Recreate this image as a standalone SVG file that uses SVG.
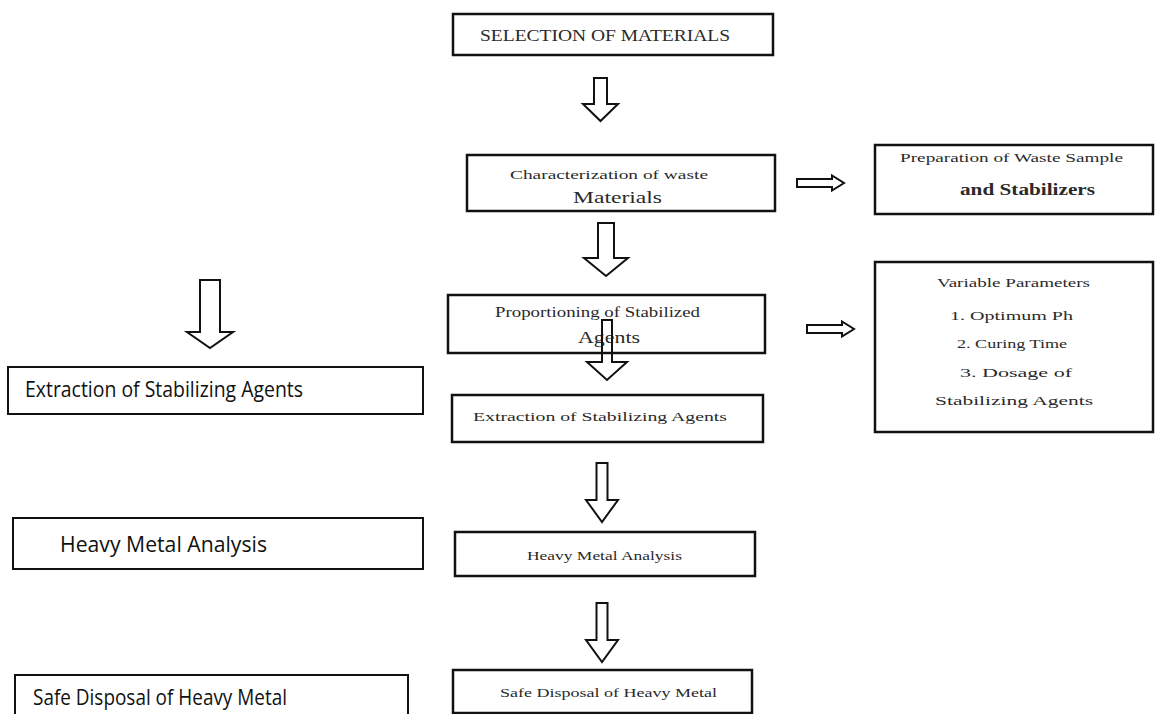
<svg xmlns="http://www.w3.org/2000/svg" width="1155" height="714" viewBox="0 0 1155 714">
  <style>
    .box { fill: #ffffff; stroke: #111111; stroke-width: 2.5; }
    .lbox { fill: #ffffff; stroke: #111111; stroke-width: 2; }
    .arrow { fill: #ffffff; stroke: #111111; stroke-width: 2; stroke-linejoin: miter; }
    .serif { font-family: "Liberation Serif", "Times New Roman", serif; fill: #2a2a2a; }
    .sans { font-family: "Open Sans", "Liberation Sans", sans-serif; fill: #111111; font-size: 21px; }
  </style>
  <rect width="1155" height="714" fill="#ffffff"/>

  <!-- block arrows between the steps -->
  <g id="connectors">
    <path class="arrow" d="M594,78 H607 V104 H618 L600.5,121 L583,104 H594 Z"/>
    <path class="arrow" d="M598,223 H614 V258 H628 L606,276 L584,258 H598 Z"/>
    <path class="arrow" d="M797,179 H832 V175.5 L844,183 L832,190.5 V187 H797 Z"/>
    <path class="arrow" d="M807,325 H842 V321.5 L854,329 L842,336.5 V333 H807 Z"/>
    <path class="arrow" d="M200,280 H220 V332 H233 L210,348 L187,332 H200 Z"/>
    <path class="arrow" d="M596.5,463 H607.5 V500 H618 L602,522 L586,500 H596.5 Z"/>
    <path class="arrow" d="M596.5,603 H607.5 V640 H618 L602,662 L586,640 H596.5 Z"/>
  </g>

  <g id="selection">
    <rect class="box" x="453" y="14" width="320" height="41"/>
    <text class="serif" x="480" y="41" font-size="16" textLength="250" lengthAdjust="spacingAndGlyphs">SELECTION  OF  MATERIALS</text>
  </g>

  <g id="characterization">
    <rect class="box" x="467" y="155" width="308" height="56"/>
    <text class="serif" x="510" y="179" font-size="13" textLength="198" lengthAdjust="spacingAndGlyphs">Characterization   of waste</text>
    <text class="serif" x="573" y="203" font-size="17" textLength="89" lengthAdjust="spacingAndGlyphs">Materials</text>
  </g>

  <g id="preparation">
    <rect class="box" x="875" y="145" width="278" height="69"/>
    <text class="serif" x="900" y="162" font-size="13" textLength="223" lengthAdjust="spacingAndGlyphs">Preparation   of Waste  Sample</text>
    <text class="serif" x="960" y="195" font-size="16" font-weight="bold" textLength="135" lengthAdjust="spacingAndGlyphs">and Stabilizers</text>
  </g>

  <g id="proportioning">
    <rect class="box" x="448" y="295" width="317" height="58" style="fill:none"/>
    <text class="serif" x="495" y="317" font-size="14" textLength="205" lengthAdjust="spacingAndGlyphs">Proportioning   of Stabilized</text>
    <text class="serif" x="578" y="343" font-size="17" textLength="62" lengthAdjust="spacingAndGlyphs">Agents</text>
  </g>

  <!-- the down arrow out of this step is drawn over its label -->
  <g id="proportioning-arrow">
    <path class="arrow" d="M602,320 H612 V362 H627 L607,380 L587,362 H602 Z" style="fill:none"/>
  </g>

  <g id="variable-parameters">
    <rect class="box" x="875" y="262" width="278" height="170"/>
    <text class="serif" x="937" y="287" font-size="13" textLength="153" lengthAdjust="spacingAndGlyphs">Variable  Parameters</text>
    <text class="serif" x="950" y="320" font-size="13" textLength="123" lengthAdjust="spacingAndGlyphs">1. Optimum  Ph</text>
    <text class="serif" x="957" y="348" font-size="13" textLength="110" lengthAdjust="spacingAndGlyphs">2. Curing  Time</text>
    <text class="serif" x="960" y="377" font-size="13" textLength="112" lengthAdjust="spacingAndGlyphs">3. Dosage  of</text>
    <text class="serif" x="935" y="405" font-size="13" textLength="158" lengthAdjust="spacingAndGlyphs">Stabilizing  Agents</text>
  </g>

  <g id="extraction">
    <rect class="box" x="452" y="395" width="311" height="47"/>
    <text class="serif" x="473" y="421" font-size="13" textLength="254" lengthAdjust="spacingAndGlyphs">Extraction   of Stabilizing   Agents</text>
  </g>

  <g id="heavy-metal-analysis">
    <rect class="box" x="455" y="532" width="300" height="44"/>
    <text class="serif" x="527" y="560" font-size="13" textLength="155" lengthAdjust="spacingAndGlyphs">Heavy  Metal  Analysis</text>
  </g>

  <g id="safe-disposal">
    <rect class="box" x="453" y="670" width="299" height="43"/>
    <text class="serif" x="500" y="697" font-size="13" textLength="217" lengthAdjust="spacingAndGlyphs">Safe  Disposal  of Heavy  Metal</text>
  </g>

  <g id="side-extraction">
    <rect class="lbox" x="8" y="367" width="415" height="47"/>
    <text class="sans" x="25" y="397" textLength="278" lengthAdjust="spacingAndGlyphs">Extraction of Stabilizing Agents</text>
  </g>

  <g id="side-heavy-metal-analysis">
    <rect class="lbox" x="13" y="518" width="410" height="51"/>
    <text class="sans" x="60" y="552" textLength="207" lengthAdjust="spacingAndGlyphs">Heavy Metal Analysis</text>
  </g>

  <g id="side-safe-disposal">
    <rect class="lbox" x="15" y="675" width="393" height="45"/>
    <text class="sans" x="33" y="705" textLength="254" lengthAdjust="spacingAndGlyphs">Safe Disposal of Heavy Metal</text>
  </g>
</svg>
